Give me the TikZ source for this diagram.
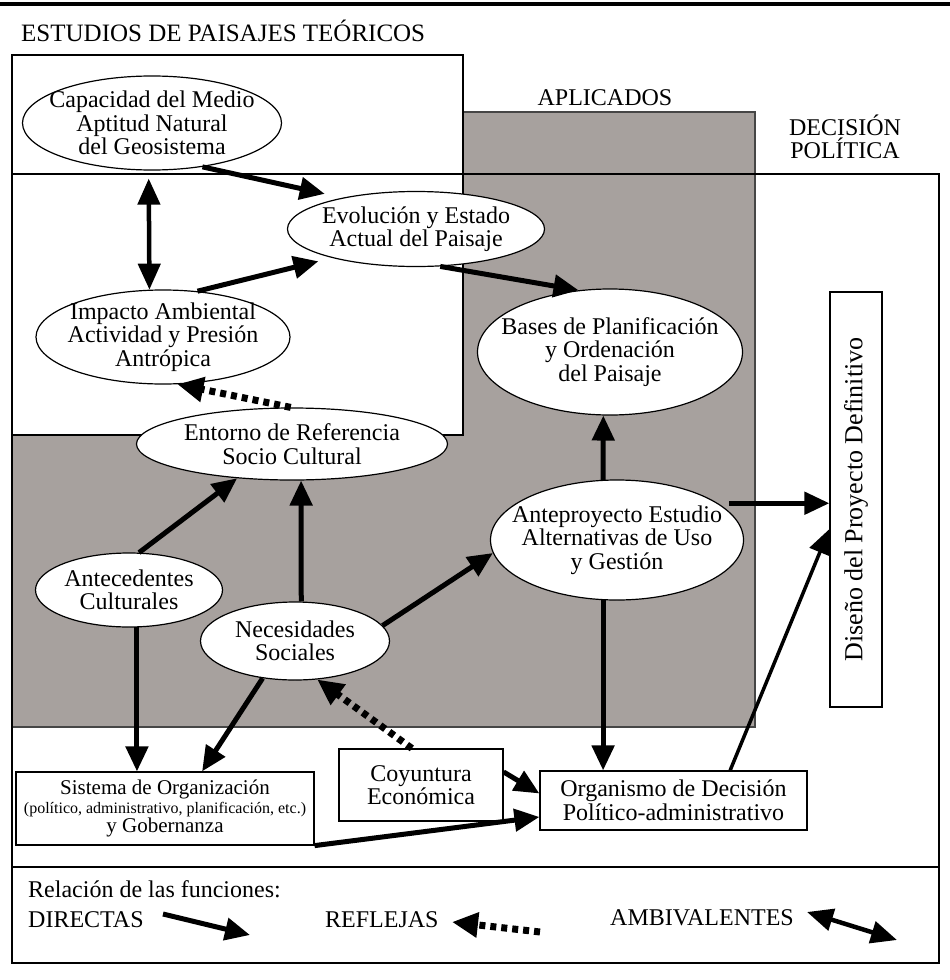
\documentclass[tikz,border=0pt]{standalone}
\usepackage{fontspec}
\setmainfont{Liberation Serif}
\usepackage{xcolor}
\usetikzlibrary{shapes.geometric,arrows.meta}
\definecolor{aplicado}{RGB}{167,161,158}
\definecolor{borde}{RGB}{70,70,70}
\tikzset{
    texto/.style={font=\fontsize{24}{23.5}\selectfont},
    campo/.style={texto, ellipse, draw, fill=white, line width=1.2pt, inner sep=-60pt, align=center},
    caja/.style={texto, rectangle, draw, fill=white, line width=1.2pt, inner sep=0pt, align=center},
    rotulo/.style={texto, inner sep=0pt, align=center},
    directa/.style={line width=5pt, -{Triangle[length=25pt,width=22pt]}},
    refleja/.style={line width=7pt, dash pattern=on 6pt off 5pt, -{Triangle[length=26pt,width=24pt]}},
    ambivalente/.style={line width=4.5pt, {Triangle[length=26pt,width=22pt]}-{Triangle[length=26pt,width=22pt]}}
}

\begin{document}
\begin{tikzpicture}[x=1pt, y=-1pt]
        \useasboundingbox (0,0) rectangle (950,980);
        \fill[aplicado] (12,112) rectangle (755,727);
        \draw[borde, line width=1.5pt] (12,112) rectangle (755,727);
        \draw[line width=1.2pt, fill=white] (12,55) rectangle (463,435);
        \draw[line width=1.2pt] (12,174) rectangle (939,963);
        \draw[line width=1.2pt] (12,867) -- (939,867);
        \draw[line width=4pt] (0,3.5) -- (950,3.5);
        \node[rotulo, anchor=base west, font=\fontsize{25}{25}\selectfont] (teo) at (21,41) {ESTUDIOS DE PAISAJES TEÓRICOS};
        \node[rotulo, anchor=base] (apl) at (605,105) {APLICADOS};
        \node[rotulo] (dec) at (845,137) {DECISIÓN\\POLÍTICA};
        \node[campo, minimum width=259pt, minimum height=94pt] (cap) at (152,123) {Capacidad del Medio\\Aptitud Natural\\del Geosistema};
        \node[campo, minimum width=257pt, minimum height=75pt] (evo) at (416,229) {Evolución y Estado\\Actual del Paisaje};
        \node[campo, minimum width=254pt, minimum height=94pt] (imp) at (163,337) {Impacto Ambiental\\Actividad y Presión\\Antrópica};
        \node[campo, minimum width=265pt, minimum height=126pt] (bas) at (610,352) {Bases de Planificación\\y Ordenación\\del Paisaje};
        \node[campo, minimum width=311pt, minimum height=72pt] (ent) at (292,444) {Entorno de Referencia\\Socio Cultural};
        \node[campo, minimum width=187pt, minimum height=74pt] (antec) at (129,590) {Antecedentes\\Culturales};
        \node[campo, minimum width=189pt, minimum height=78pt] (nec) at (295,641) {Necesidades\\Sociales};
        \node[campo, minimum width=253pt, minimum height=120pt] (antep) at (617,540) {Anteproyecto Estudio\\Alternativas de Uso\\y Gestión};
        \node[caja, minimum width=52pt, minimum height=415pt] (dis) at (856,499.5) {\rotatebox{90}{\fontsize{26}{26}\selectfont Diseño del Proyecto Definitivo}};
        \node[caja, minimum width=298pt, minimum height=73pt, font=\fontsize{21}{19}\selectfont] (sis) at (165,808.5) {Sistema de Organización\\{\fontsize{16}{17}\selectfont (político, administrativo, planificación, etc.)}\\y Gobernanza};
        \node[caja, minimum width=164pt, minimum height=72pt] (coy) at (421,785) {Coyuntura\\Económica};
        \node[caja, minimum width=267pt, minimum height=59pt] (org) at (673.5,800.5) {Organismo de Decisión\\Político-administrativo};
        \draw[directa, shorten >=18pt] (cap.-41) -- (evo.157);
        \draw[ambivalente, shorten <=8pt] (cap.-94) -- (imp.106);
        \draw[directa, shorten >=14pt] (imp.53) -- (evo.199);
        \draw[directa] (evo.-57) -- (bas.117);
        \draw[refleja] (ent.92) -- (imp.-73);
        \draw[directa] (antec.75) -- (ent.212);
        \draw[directa] (nec.81) -- (ent.-76);
        \draw[directa] (nec.10) -- (antep.186);
        \draw[directa] (antep.103) -- (bas.-96);
        \draw[directa, shorten <=11pt] (antep.20) -- (antep.20 -| dis.west);
        \draw[directa, line width=3.5pt] (org.28) -- (dis.228);
        \draw[directa] (antep.-103) -- (antep.-103 |- org.north);
        \draw[directa] (antec.-78) -- (antec.-78 |- sis.north);
        \draw[directa] (nec.229) -- (sis.45);
        \draw[refleja] (coy.104) -- (nec.-60);
        \draw[directa] (coy.9) -- (org.177);
        \draw[directa] (sis.south east) -- (org.187);
        \node[rotulo, anchor=base west] (rel) at (28,897) {Relación de las funciones:};
        \node[rotulo, anchor=base west] (dir) at (28,927) {DIRECTAS};
        \node[rotulo, anchor=base west] (ref) at (325,927) {REFLEJAS};
        \node[rotulo, anchor=base west] (amb) at (610,925) {AMBIVALENTES};
        \coordinate (d1) at (163,914);
        \coordinate (d2) at (250,935);
        \coordinate (r1) at (540,932);
        \coordinate (r2) at (452,922);
        \coordinate (a1) at (807,912);
        \coordinate (a2) at (897,940);
        \draw[directa] (d1) -- (d2);
        \draw[refleja] (r1) -- (r2);
        \draw[ambivalente] (a1) -- (a2);
    \end{tikzpicture}
\end{document}
